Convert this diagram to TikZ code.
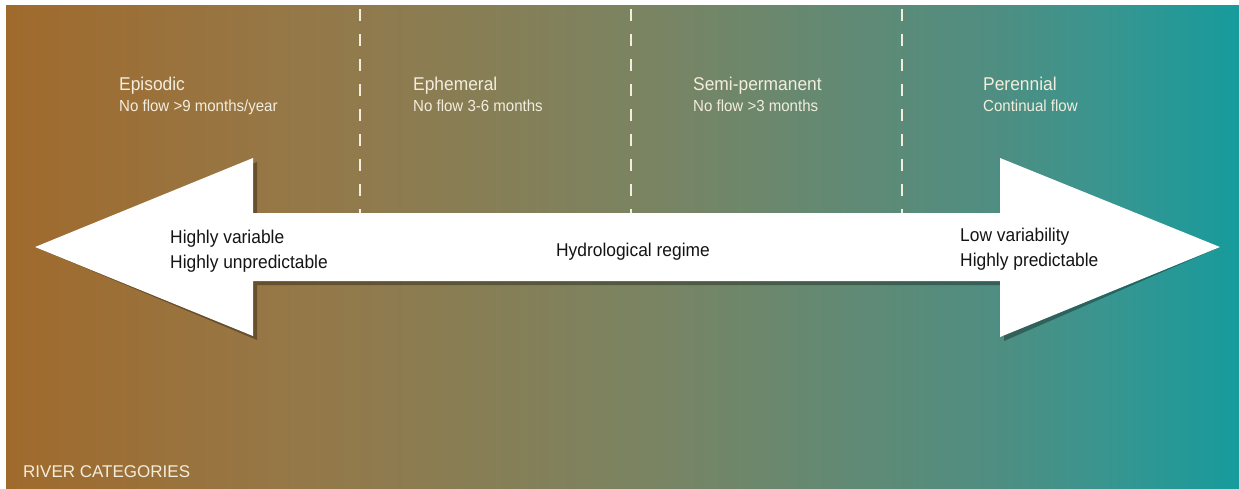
\documentclass[tikz,border=0pt]{standalone}
\usepackage{fontspec}
\setmainfont{Liberation Sans}
\newfontfamily\narrowfont[FakeStretch=0.94]{Liberation Sans}
\definecolor{cream}{HTML}{F3EDDD}
\definecolor{bgA}{HTML}{A06A2C}
\definecolor{bgB}{HTML}{957848}
\definecolor{bgC}{HTML}{7A8462}
\definecolor{bgD}{HTML}{4E8E82}
\definecolor{bgE}{HTML}{3A958F}
\definecolor{bgF}{HTML}{169B9C}
\pgfdeclarehorizontalshading{riverbg}{100bp}{color(0bp)=(bgA); color(25bp)=(bgA); color(36.92bp)=(bgB); color(51.11bp)=(bgC); color(65.31bp)=(bgD); color(69.36bp)=(bgE); color(75bp)=(bgF); color(100bp)=(bgF)}
\begin{document}
\begin{tikzpicture}[x=1pt,y=-1pt,
  lbl/.style={text=cream, inner sep=0pt, anchor=base west},
  ttl/.style={lbl, font=\narrowfont\fontsize{18.5}{20}\selectfont},
  sub/.style={lbl, font=\narrowfont\fontsize{16}{18}\selectfont},
  blk/.style={text=black!92, inner sep=0pt, anchor=base west, font=\narrowfont\fontsize{18.5}{20}\selectfont},
  divider/.style={cream, line width=2pt, dash pattern=on 12pt off 13pt},
  arrowshape/.style={fill=white},
  shadowshape/.style={fill=black, opacity=0.32}]
\useasboundingbox (0,0) rectangle (1239,488);
\shade[shading=riverbg] (6,5) rectangle (1239,488);
% dividers
\coordinate (d1t) at (360,9);  \coordinate (d1b) at (360,213);
\coordinate (d2t) at (631,9);  \coordinate (d2b) at (631,213);
\coordinate (d3t) at (902,9);  \coordinate (d3b) at (902,213);
\draw[divider] (d1t) -- (d1b);
\draw[divider] (d2t) -- (d2b);
\draw[divider] (d3t) -- (d3b);
% double arrow
\coordinate (ltip) at (35,247);
\coordinate (rtip) at (1220,247);
\begin{scope}[shift={(4,4)}]
\fill[shadowshape] (ltip) -- (253,158) -- (253,213) -- (1000,213) -- (1000,158) -- (rtip)
  -- (1000,337) -- (1000,281) -- (253,281) -- (253,336) -- cycle;
\end{scope}
\fill[arrowshape] (ltip) -- (253,158) -- (253,213) -- (1000,213) -- (1000,158) -- (rtip)
  -- (1000,337) -- (1000,281) -- (253,281) -- (253,336) -- cycle;
% category labels
\node[ttl] (epi) at (119,90) {Episodic};
\node[sub] (epis) at (119,111) {No flow >9 months/year};
\node[ttl] (eph) at (413,90) {Ephemeral};
\node[sub] (ephs) at (413,111) {No flow 3-6 months};
\node[ttl] (semi) at (693,90) {Semi-permanent};
\node[sub] (semis) at (693,111) {No flow >3 months};
\node[ttl] (per) at (983,90) {Perennial};
\node[sub] (pers) at (983,111) {Continual flow};
% arrow texts
\node[blk] (hv) at (170,243) {Highly variable};
\node[blk] (hu) at (170,268) {Highly unpredictable};
\node[blk, anchor=base] (hr) at (633,256) {Hydrological regime};
\node[blk] (lv) at (960,241) {Low variability};
\node[blk] (hp) at (960,266) {Highly predictable};
\node[lbl, font=\fontsize{17}{19}\selectfont] (rc) at (23,477) {RIVER CATEGORIES};
\end{tikzpicture}
\end{document}
